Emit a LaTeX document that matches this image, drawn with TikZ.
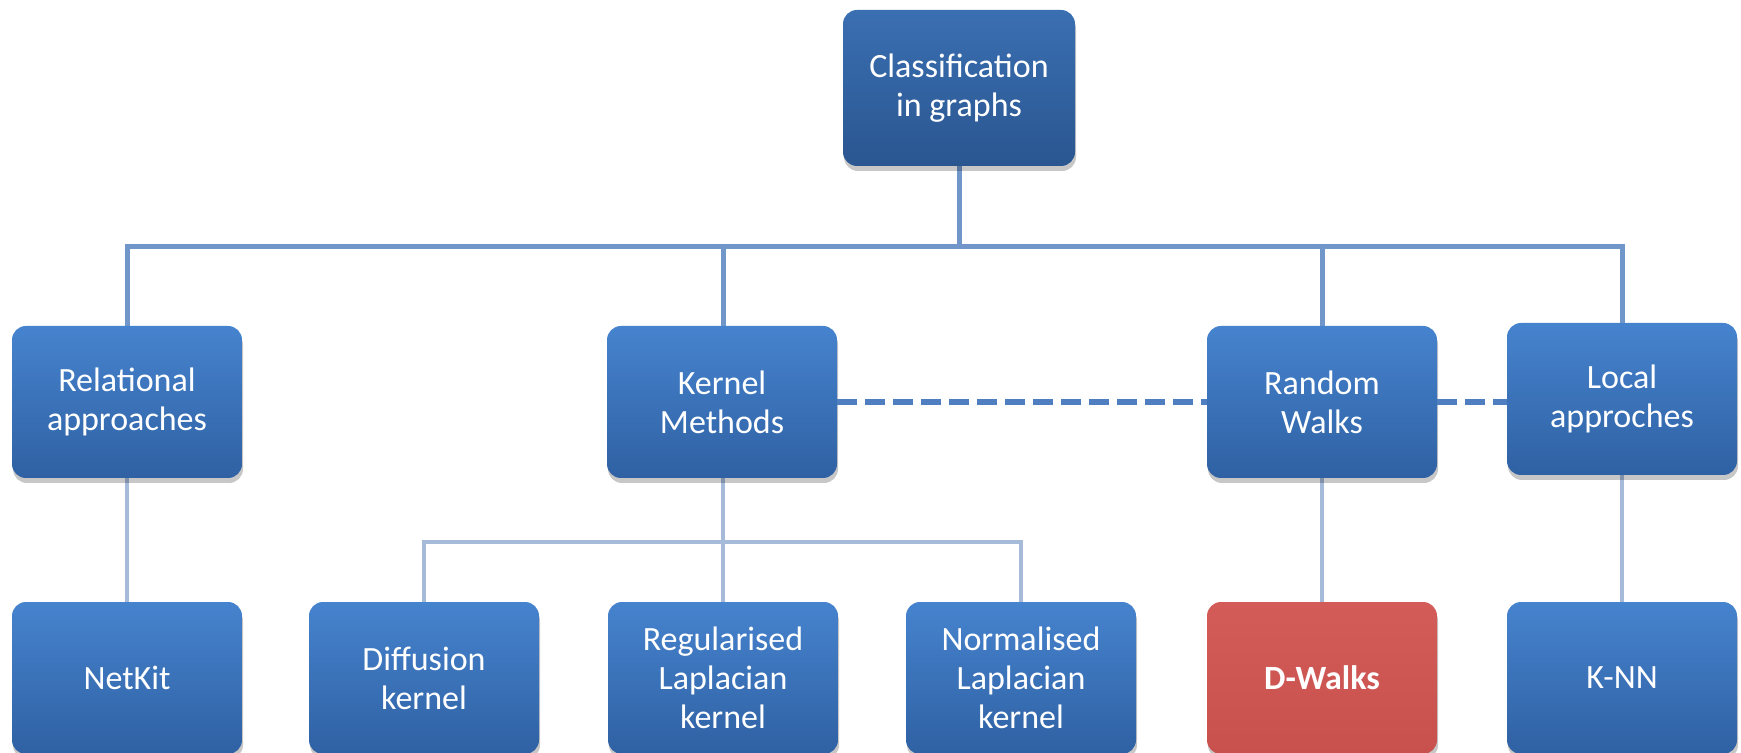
\documentclass[tikz,border=0pt]{standalone}
\usepackage{fontspec}
\setmainfont{Carlito}
\usetikzlibrary{shadows}
\definecolor{boxtop}{HTML}{4683CE}
\definecolor{boxbot}{HTML}{2F61A3}
\definecolor{roottop}{HTML}{3A6FB2}
\definecolor{rootbot}{HTML}{2A5690}
\definecolor{redtop}{HTML}{D35C59}
\definecolor{redbot}{HTML}{C8504D}
\definecolor{uplink}{HTML}{7197CA}
\definecolor{lowlink}{HTML}{A6BADA}
\definecolor{dashlink}{HTML}{4F7EC1}
\tikzset{
  x=0.5pt, y=-0.5pt,
  catbox/.style={rectangle, rounded corners=7pt, minimum width=115pt, minimum height=76pt,
    top color=boxtop, bottom color=boxbot, draw=none, text=white, align=center,
    font=\fontsize{17}{19.5}\selectfont,
    drop shadow={shadow xshift=0.5pt, shadow yshift=-2.5pt, opacity=0.22, fill=black}},
  rootbox/.style={catbox, minimum width=116pt, minimum height=78pt, top color=roottop, bottom color=rootbot},
  hotbox/.style={catbox, top color=redtop, bottom color=redbot, font=\fontsize{17}{19.5}\selectfont\bfseries},
  uplinkline/.style={draw=uplink, line width=2.5pt},
  lowlinkline/.style={draw=lowlink, line width=2pt},
  dashline/.style={draw=dashlink, line width=3pt, dash pattern=on 10pt off 4pt}
}
\begin{document}
\begin{tikzpicture}
\useasboundingbox[fill=white] (0,0) rectangle (1741,753);

% junction points of the bracket connectors
\coordinate (bar1) at (959,247);
\coordinate (bar2) at (723,542);

% connectors are drawn first so the boxes sit on top
\path[uplinkline] (959,160) -- (bar1);
\path[uplinkline] (127,330) |- (bar1) -| (1622,330);
\path[uplinkline] (723,247) -- (723,330);
\path[uplinkline] (1322,247) -- (1322,330);

\path[lowlinkline] (127,470) -- (127,610);
\path[lowlinkline] (1322,470) -- (1322,610);
\path[lowlinkline] (1622,470) -- (1622,610);
\path[lowlinkline] (723,470) -- (723,610);
\path[lowlinkline] (424,610) |- (bar2) -| (1021,610);

% boxes
\node[rootbox] (top) at (959,88) {Classification\\in graphs};

\node[catbox] (rel) at (127,402) {Relational\\approaches};
\node[catbox] (ker) at (722,402) {Kernel\\Methods};
\node[catbox] (rw)  at (1322,402) {Random\\Walks};
\node[catbox] (loc) at (1622,399) {Local\\approches};

\node[catbox] (netkit) at (127,678) {NetKit};
\node[catbox] (diff)   at (424,678) {Diffusion\\kernel};
\node[catbox] (reg)    at (723,678) {Regularised\\Laplacian\\kernel};
\node[catbox] (norm)   at (1021,678) {Normalised\\Laplacian\\kernel};
\node[hotbox] (dw)     at (1322,678) {D-Walks};
\node[catbox] (knn)    at (1622,678) {K-NN};

% dashed relations between categories
\path[dashline] (ker.east) -- (ker.east -| rw.west);
\path[dashline] (rw.east) -- (rw.east -| loc.west);
\end{tikzpicture}
\end{document}
